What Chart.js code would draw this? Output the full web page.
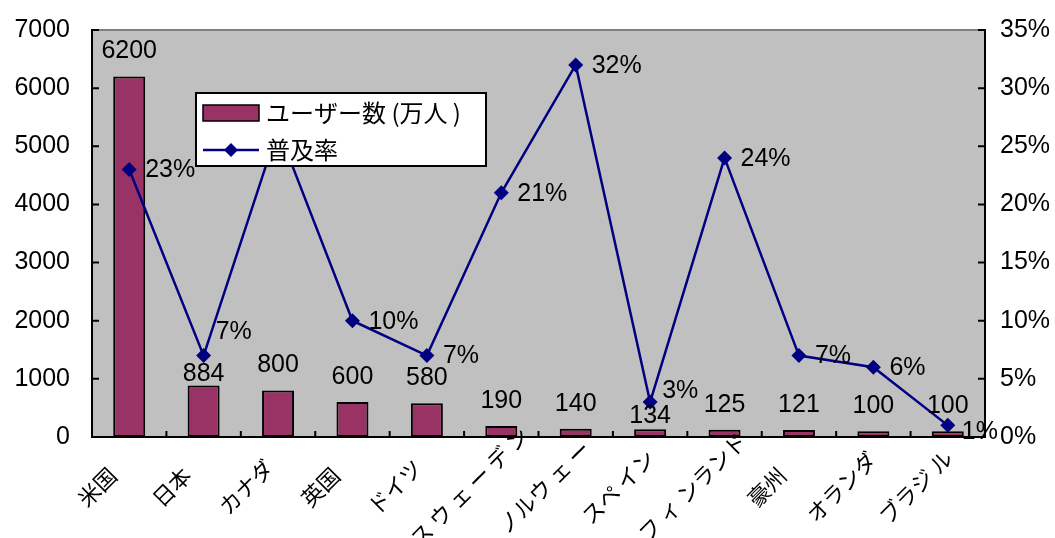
<!DOCTYPE html>
<html lang="ja">
<head>
<meta charset="UTF-8">
<title>ユーザー数と普及率</title>
<script src="https://cdn.jsdelivr.net/npm/chart.js@4.4.0/dist/chart.umd.min.js"></script>
<style>
  body { margin: 0; background: #fff; }
</style>
</head>
<body>
<canvas id="chart" width="1055" height="538"></canvas>
<script>
const countries = ['米国', '日本', 'カナダ', '英国', 'ドイツ', 'ス ウ ェ ー デ ン', 'ノルウ ェ ー', 'スペ イン', 'フ ィ ンランド', '豪州', 'オランダ', 'ブラジ ル'];
const users = [6200, 884, 800, 600, 580, 190, 140, 134, 125, 121, 100, 100];      // 万人
const rates = [23, 7, 26.5, 10, 7, 21, 32, 3, 24, 7, 6, 1];                       // %
const userTicks = [0, 1000, 2000, 3000, 4000, 5000, 6000, 7000];
const rateTicks = [0, 5, 10, 15, 20, 25, 30, 35];

const FONT = '"Liberation Sans", Arial, "Noto Sans CJK JP", sans-serif';
const JP_FONT = '"Noto Sans CJK JP", "Liberation Sans", sans-serif';
const BAR = '#993366';
const LINE = '#000080';

// hand-moved labels (dy in px)
const barLabelNudge = { 1: 14, 7: 12 };
const rateLabelNudge = { 1: [-4, -24], 7: [-4, -12], 11: [-2, 6] };

const decor = {
  id: 'decor',
  beforeDraw(chart) {
    const { ctx, chartArea: a } = chart;
    ctx.save();
    ctx.fillStyle = '#c0c0c0';
    ctx.fillRect(a.left, a.top, a.right - a.left, a.bottom - a.top);
    ctx.strokeStyle = '#808080';
    ctx.lineWidth = 2;
    ctx.beginPath();
    ctx.moveTo(a.left, a.top);
    ctx.lineTo(a.right, a.top);
    ctx.stroke();
    ctx.restore();
  },
  afterDatasetsDraw(chart) {
    const { ctx, chartArea: a, scales } = chart;
    const x = scales.x, y = scales.y, y1 = scales.y1;
    ctx.save();

    // inner tick marks
    ctx.strokeStyle = '#000';
    ctx.lineWidth = 2;
    ctx.beginPath();
    userTicks.forEach(v => {
      const py = y.getPixelForValue(v);
      ctx.moveTo(a.left, py); ctx.lineTo(a.left + 7, py);
    });
    rateTicks.forEach(v => {
      const py = y1.getPixelForValue(v);
      ctx.moveTo(a.right, py); ctx.lineTo(a.right - 7, py);
    });
    const step = (a.right - a.left) / countries.length;
    for (let i = 1; i < countries.length; i++) {
      const px = x.getPixelForValue(i) - step / 2;
      ctx.moveTo(px, a.bottom); ctx.lineTo(px, a.bottom - 6);
    }
    ctx.stroke();

    // value labels
    ctx.fillStyle = '#000';
    ctx.font = '25px ' + FONT;
    ctx.textBaseline = 'middle';
    ctx.textAlign = 'center';
    const bars = chart.getDatasetMeta(0).data;
    bars.forEach((bar, i) => {
      ctx.fillText(String(users[i]), bar.x, bar.y - 25 + (barLabelNudge[i] || 0));
    });
    ctx.textAlign = 'left';
    const pts = chart.getDatasetMeta(1).data;
    pts.forEach((p, i) => {
      const n = rateLabelNudge[i] || [0, 0];
      ctx.fillText(Math.round(rates[i]) + '%', p.x + 16 + n[0], p.y + 1 + n[1]);
    });

    // category labels, rotated and centred below each slot
    ctx.font = '22px ' + JP_FONT;
    ctx.textAlign = 'center';
    countries.forEach((name, i) => {
      const px = x.getPixelForValue(i);
      ctx.save();
      ctx.translate(px - 32, a.bottom + 50);
      ctx.rotate(-Math.PI / 4);
      ctx.fillText(name, 0, 0);
      ctx.restore();
    });
    ctx.restore();
  },
  afterDraw(chart) {
    // legend box sits over the plot
    const { ctx } = chart;
    const lx = 196, ly = 93, lw = 290, lh = 73;
    ctx.save();
    ctx.fillStyle = '#fff';
    ctx.fillRect(lx, ly, lw, lh);
    ctx.strokeStyle = '#000';
    ctx.lineWidth = 2;
    ctx.strokeRect(lx, ly, lw, lh);

    ctx.fillStyle = BAR;
    ctx.fillRect(lx + 7, ly + 12, 56, 16);
    ctx.lineWidth = 1.5;
    ctx.strokeRect(lx + 7, ly + 12, 56, 16);

    ctx.strokeStyle = LINE;
    ctx.lineWidth = 2.5;
    ctx.beginPath();
    ctx.moveTo(lx + 7, ly + 57);
    ctx.lineTo(lx + 63, ly + 57);
    ctx.stroke();
    ctx.fillStyle = LINE;
    ctx.beginPath();
    ctx.moveTo(lx + 35, ly + 50);
    ctx.lineTo(lx + 42, ly + 57);
    ctx.lineTo(lx + 35, ly + 64);
    ctx.lineTo(lx + 28, ly + 57);
    ctx.closePath();
    ctx.fill();

    ctx.fillStyle = '#000';
    ctx.font = '24px ' + JP_FONT;
    ctx.textAlign = 'left';
    ctx.textBaseline = 'middle';
    ctx.fillText(chart.data.datasets[0].label, lx + 70, ly + 20);
    ctx.fillText(chart.data.datasets[1].label, lx + 70, ly + 57);
    ctx.restore();
  }
};

// fixed side widths; layout padding alone decides top/bottom of the plot
const fitSide = w => s => { s.width = w; s.paddingTop = 0; s.paddingBottom = 0; };

new Chart(document.getElementById('chart'), {
  data: {
    labels: countries,
    datasets: [{
      type: 'bar',
      label: 'ユーザー数 (万人 )',
      data: users,
      yAxisID: 'y',
      backgroundColor: BAR,
      borderColor: '#000',
      borderWidth: 2,
      borderSkipped: false,
      categoryPercentage: 1,
      barPercentage: 0.43,
      order: 1
    }, {
      type: 'line',
      label: '普及率',
      data: rates,
      yAxisID: 'y1',
      borderColor: LINE,
      backgroundColor: LINE,
      borderWidth: 2.5,
      pointStyle: 'rectRot',
      pointRadius: 7.5,
      pointBorderWidth: 0,
      tension: 0,
      order: 0
    }]
  },
  options: {
    responsive: false,
    animation: false,
    events: [],
    layout: { padding: { top: 30, bottom: 93, left: 0, right: 0 } },
    plugins: { legend: { display: false }, tooltip: { enabled: false } },
    scales: {
      x: {
        offset: true,
        grid: { display: false },
        border: { color: '#000', width: 2 },
        ticks: { display: false }
      },
      y: {
        position: 'left',
        min: 0, max: 7000,
        afterBuildTicks: s => { s.ticks = userTicks.map(v => ({ value: v })); },
        afterFit: fitSide(92),
        grid: { display: false, drawTicks: false },
        border: { color: '#000', width: 2 },
        ticks: { color: '#000', font: { family: FONT, size: 25 }, padding: 22, callback: v => String(v) }
      },
      y1: {
        position: 'right',
        min: 0, max: 35,
        afterBuildTicks: s => { s.ticks = rateTicks.map(v => ({ value: v })); },
        afterFit: fitSide(70),
        grid: { display: false, drawTicks: false },
        border: { color: '#000', width: 2 },
        ticks: { color: '#000', font: { family: FONT, size: 25 }, padding: 15, callback: v => v + '%' }
      }
    }
  },
  plugins: [decor]
});
</script>
</body>
</html>
